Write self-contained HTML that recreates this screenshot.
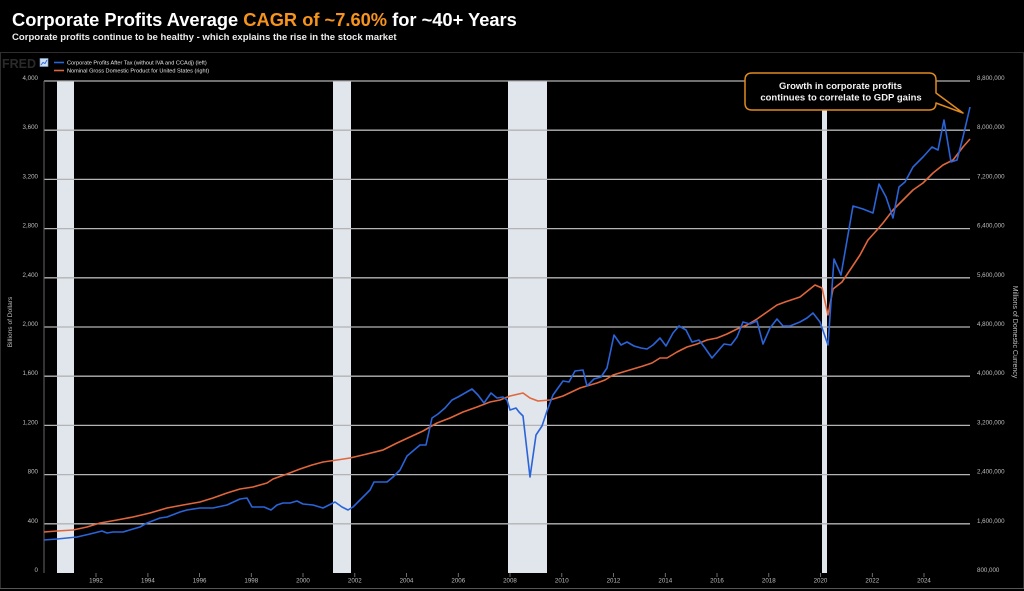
<!DOCTYPE html>
<html>
<head>
<meta charset="utf-8">
<style>
  html,body{margin:0;padding:0;background:#000;}
  body{width:1024px;height:591px;overflow:hidden;}
  svg{display:block;}
  text{font-family:"Liberation Sans", Arial, sans-serif;}
</style>
</head>
<body>
<svg width="1024" height="591" viewBox="0 0 1024 591" xmlns="http://www.w3.org/2000/svg">
  <rect x="0" y="0" width="1024" height="591" fill="#000"/>

  <!-- Title -->
  <text x="12" y="26" font-size="18.3" font-weight="bold" fill="#ffffff">Corporate Profits Average <tspan fill="#f7941d">CAGR of ~7.60%</tspan> for ~40+ Years</text>
  <text x="12" y="40" font-size="9.55" font-weight="bold" fill="#ececec">Corporate profits continue to be healthy - which explains the rise in the stock market</text>

  <!-- chart frame border -->
  <rect x="0.5" y="52.5" width="1023" height="536" fill="none" stroke="#2e2e2e" stroke-width="1"/>
  <line x1="0" y1="588.5" x2="1024" y2="588.5" stroke="#555" stroke-width="1"/>

  <!-- FRED logo + legend -->
  <text x="2" y="68" font-size="12.5" font-weight="bold" fill="#2a2a2a">FRED</text>
  <rect x="40" y="58.5" width="8" height="8" fill="#cfe0f3" stroke="#7fa6d6" stroke-width="0.6"/>
  <polyline points="41,65 43,62.5 45,63.5 47,60" fill="none" stroke="#2a64d8" stroke-width="0.9"/>
  <line x1="54" y1="62.5" x2="64" y2="62.5" stroke="#2a64d8" stroke-width="1.6"/>
  <line x1="54" y1="70.5" x2="64" y2="70.5" stroke="#e0663c" stroke-width="1.6"/>
  <text x="67" y="64.5" font-size="5.6" fill="#e6e6e6">Corporate Profits After Tax (without IVA and CCAdj) (left)</text>
  <text x="67" y="72.5" font-size="5.6" fill="#e6e6e6">Nominal Gross Domestic Product for United States (right)</text>

  <!-- Recession bars -->
  <g fill="#e1e5ec">
    <rect x="57" y="81" width="17" height="492"/>
    <rect x="333" y="81" width="18" height="492"/>
    <rect x="508" y="81" width="39" height="492"/>
    <rect x="822" y="81" width="5" height="492"/>
  </g>

  <!-- Gridlines -->
  <g stroke="#b4b4b4" stroke-width="1.3">
    <line x1="44" y1="81" x2="970" y2="81"/>
    <line x1="44" y1="130.2" x2="970" y2="130.2"/>
    <line x1="44" y1="179.4" x2="970" y2="179.4"/>
    <line x1="44" y1="228.6" x2="970" y2="228.6"/>
    <line x1="44" y1="277.8" x2="970" y2="277.8"/>
    <line x1="44" y1="327" x2="970" y2="327"/>
    <line x1="44" y1="376.2" x2="970" y2="376.2"/>
    <line x1="44" y1="425.4" x2="970" y2="425.4"/>
    <line x1="44" y1="474.6" x2="970" y2="474.6"/>
    <line x1="44" y1="523.8" x2="970" y2="523.8"/>
  </g>
  <line x1="44" y1="81" x2="44" y2="573" stroke="#666" stroke-width="1"/>

  <!-- Left axis labels -->
  <g font-size="6.2" fill="#bdbdbd" text-anchor="end">
    <text x="38" y="80">4,000</text>
    <text x="38" y="129.2">3,600</text>
    <text x="38" y="178.4">3,200</text>
    <text x="38" y="227.6">2,800</text>
    <text x="38" y="276.8">2,400</text>
    <text x="38" y="326">2,000</text>
    <text x="38" y="375.2">1,600</text>
    <text x="38" y="424.4">1,200</text>
    <text x="38" y="473.6">800</text>
    <text x="38" y="522.8">400</text>
    <text x="38" y="572">0</text>
  </g>

  <!-- Right axis labels -->
  <g font-size="6.2" fill="#bdbdbd">
    <text x="977" y="80">8,800,000</text>
    <text x="977" y="129.2">8,000,000</text>
    <text x="977" y="178.4">7,200,000</text>
    <text x="977" y="227.6">6,400,000</text>
    <text x="977" y="276.8">5,600,000</text>
    <text x="977" y="326">4,800,000</text>
    <text x="977" y="375.2">4,000,000</text>
    <text x="977" y="424.4">3,200,000</text>
    <text x="977" y="473.6">2,400,000</text>
    <text x="977" y="522.8">1,600,000</text>
    <text x="977" y="572">800,000</text>
  </g>

  <!-- Axis titles -->
  <text transform="translate(12,322) rotate(-90)" font-size="6.6" fill="#bdbdbd" text-anchor="middle">Billions of Dollars</text>
  <text transform="translate(1013,332) rotate(90)" font-size="7" fill="#bdbdbd" text-anchor="middle">Millions of Domestic Currency</text>

  <!-- X ticks -->
  <g stroke="#888" stroke-width="0.8">
    <line x1="96" y1="573" x2="96" y2="577"/>
    <line x1="147.9" y1="573" x2="147.9" y2="577"/>
    <line x1="199.6" y1="573" x2="199.6" y2="577"/>
    <line x1="251.3" y1="573" x2="251.3" y2="577"/>
    <line x1="303" y1="573" x2="303" y2="577"/>
    <line x1="354.8" y1="573" x2="354.8" y2="577"/>
    <line x1="406.5" y1="573" x2="406.5" y2="577"/>
    <line x1="458.3" y1="573" x2="458.3" y2="577"/>
    <line x1="510" y1="573" x2="510" y2="577"/>
    <line x1="561.8" y1="573" x2="561.8" y2="577"/>
    <line x1="613.5" y1="573" x2="613.5" y2="577"/>
    <line x1="665.3" y1="573" x2="665.3" y2="577"/>
    <line x1="717" y1="573" x2="717" y2="577"/>
    <line x1="768.8" y1="573" x2="768.8" y2="577"/>
    <line x1="820.5" y1="573" x2="820.5" y2="577"/>
    <line x1="872.3" y1="573" x2="872.3" y2="577"/>
    <line x1="924" y1="573" x2="924" y2="577"/>
  </g>
  <g font-size="6.2" fill="#bdbdbd" text-anchor="middle">
    <text x="96" y="582.5">1992</text>
    <text x="147.9" y="582.5">1994</text>
    <text x="199.6" y="582.5">1996</text>
    <text x="251.3" y="582.5">1998</text>
    <text x="303" y="582.5">2000</text>
    <text x="354.8" y="582.5">2002</text>
    <text x="406.5" y="582.5">2004</text>
    <text x="458.3" y="582.5">2006</text>
    <text x="510" y="582.5">2008</text>
    <text x="561.8" y="582.5">2010</text>
    <text x="613.5" y="582.5">2012</text>
    <text x="665.3" y="582.5">2014</text>
    <text x="717" y="582.5">2016</text>
    <text x="768.8" y="582.5">2018</text>
    <text x="820.5" y="582.5">2020</text>
    <text x="872.3" y="582.5">2022</text>
    <text x="924" y="582.5">2024</text>
  </g>

  <!-- GDP series (orange) -->
  <polyline fill="none" stroke="#e0663c" stroke-width="1.6" stroke-linejoin="round"
    points="44,532 57,531 73,530 87,527 100,523 117,520 133,517 150,513 167,508 183,505 200,502 213,498 227,493 240,489 253,487 267,483 273,479 287,474 300,469 312,465 323,462 337,460 350,458 367,454 383,450 397,443 410,437 423,431 437,423 450,418 463,412 477,407 490,402 500,400 510,396 523,393 530,398 538,401 550,400 563,396 580,388 597,383 605,380 613,375 623,372 633,369 643,366 652,363 660,358 667,358 677,352 687,347 697,344 707,340 717,338 727,334 737,329 747,325 757,319 767,312 777,305 785,302 800,297 815,285 822,288 828,315 833,289 842,282 850,270 860,255 868,240 877,230 883,223 893,210 903,200 913,190 923,183 933,173 943,165 953,160 963,147 970,139"/>

  <!-- Corporate profits series (blue) -->
  <polyline fill="none" stroke="#2a64d8" stroke-width="1.6" stroke-linejoin="round"
    points="44,540 57,539 67,538 77,537 90,534 102,531 107,533 113,532 123,532 133,529 140,527 147,523 160,518 167,517 180,512 187,510 200,508 213,508 227,505 240,499 247,498 252,507 258,507 264,507 271,510 277,505 283,503 290,503 297,501 303,504 313,505 323,508 335,502 342,507 348,510 353,507 363,497 370,490 374,482 387,482 393,477 400,470 407,456 420,445 426,445 432,418 438,414 445,408 452,400 458,397 465,393 472,389 478,395 484,403 491,393 497,398 503,397 507,400 510,410 516,408 519,412 523,416 530,477 536,435 542,426 547,411 553,395 558,388 563,381 569,382 575,371 583,370 587,386 594,379 601,377 607,368 614,335 621,345 627,342 634,346 641,348 647,349 653,345 660,338 666,346 673,333 679,326 686,330 692,342 699,340 705,348 712,358 718,351 724,344 731,345 737,337 743,322 750,324 757,321 763,344 770,328 777,319 783,326 790,326 800,322 807,318 813,313 820,322 828,345 834,259 841,275 853,206 863,209 873,213 879,184 886,197 893,218 899,187 905,182 913,167 923,157 932,147 938,150 944,120 951,162 957,160 963,137 970,107"/>

  <!-- Callout -->
  <path d="M752,73 H929 Q936,73 936,80 V93 L963,113 L936,103 Q936,110 929,110 H752 Q745,110 745,103 V80 Q745,73 752,73 Z"
        fill="#000" stroke="#e08a1e" stroke-width="1.5" stroke-linejoin="round"/>
  <g font-size="9.5" font-weight="bold" fill="#f2f2f2" text-anchor="middle">
    <text x="840.5" y="89">Growth in corporate profits</text>
    <text x="841" y="100.5">continues to correlate to GDP gains</text>
  </g>
</svg>
</body>
</html>
